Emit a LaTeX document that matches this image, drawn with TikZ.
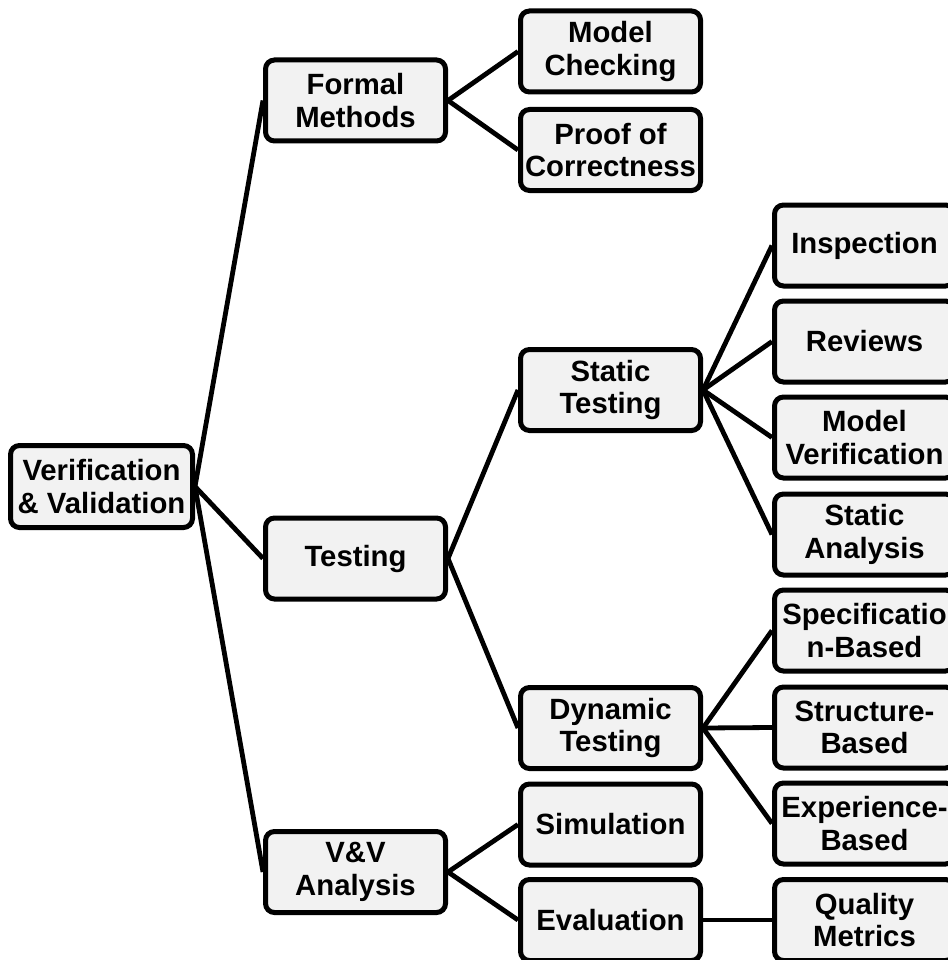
\documentclass[tikz,border=0pt]{standalone}
\usepackage{fontspec}
\setmainfont{Liberation Sans}
\definecolor{boxfill}{HTML}{F2F2F2}
\begin{document}
\begin{tikzpicture}[x=1pt,y=-1pt,
  box/.style={draw=black, line width=5pt, fill=boxfill, rounded corners=9pt,
    minimum width=180pt, minimum height=81pt, inner sep=0pt, align=center,
    font=\fontsize{29.3}{32.5}\selectfont\bfseries, text=black},
  conn/.style={draw=black, line width=4.8pt}]
\useasboundingbox (0,0) rectangle (947,960);
% nodes
\node[box, minimum width=182pt, minimum height=82pt] (root) at (101.5,486.5) {Verification\\\& Validation};
\node[box] (formal) at (355.5,100.5) {Formal\\Methods};
\node[box] (testing) at (355.5,558.5) {Testing};
\node[box] (vva) at (355.5,872) {V\&V\\Analysis};
\node[box] (mc) at (610.5,51.5) {Model\\Checking};
\node[box] (proof) at (610.5,150) {Proof of\\Correctness};
\node[box] (static) at (610.5,390) {Static\\Testing};
\node[box] (dynamic) at (610.5,728) {Dynamic\\Testing};
\node[box] (sim) at (610.5,824.5) {Simulation};
\node[box] (eval) at (610.5,920) {Evaluation};
\node[box] (insp) at (864.5,245.5) {Inspection};
\node[box] (rev) at (864.5,341.5) {Reviews};
\node[box] (mver) at (864.5,437.5) {Model\\Verification};
\node[box] (sana) at (864.5,534.5) {Static\\Analysis};
\node[box] (spec) at (864.5,630.5) {Specificatio\\n-Based};
\node[box] (struct) at (864.5,727.5) {Structure-\\Based};
\node[box] (exp) at (864.5,823.5) {Experience-\\Based};
\node[box] (qual) at (864.5,920) {Quality\\Metrics};
% connectors
\draw[conn] (root.east) -- (formal.west);
\draw[conn] (root.east) -- (testing.west);
\draw[conn] (root.east) -- (vva.west);
\draw[conn] (formal.east) -- (mc.west);
\draw[conn] (formal.east) -- (proof.west);
\draw[conn] (testing.east) -- (static.west);
\draw[conn] (testing.east) -- (dynamic.west);
\draw[conn] (vva.east) -- (sim.west);
\draw[conn] (vva.east) -- (eval.west);
\draw[conn] (static.east) -- (insp.west);
\draw[conn] (static.east) -- (rev.west);
\draw[conn] (static.east) -- (mver.west);
\draw[conn] (static.east) -- (sana.west);
\draw[conn] (dynamic.east) -- (spec.west);
\draw[conn] (dynamic.east) -- (struct.west);
\draw[conn] (dynamic.east) -- (exp.west);
\draw[conn] (eval.east) -- (qual.west);
\end{tikzpicture}
\end{document}
